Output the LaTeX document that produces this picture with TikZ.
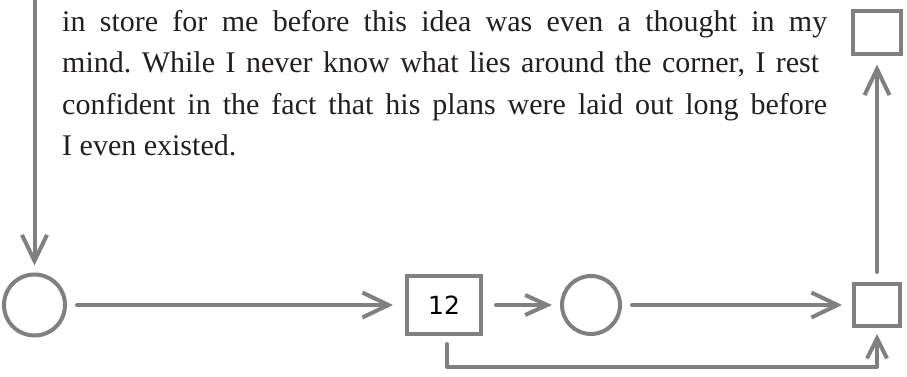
\documentclass[tikz,border=0pt]{standalone}
\usepackage{fontspec}
\setmainfont{Liberation Serif}
\newfontfamily\numfont{DejaVu Sans}
\usetikzlibrary{arrows.meta}
\definecolor{linegray}{HTML}{808080}
\definecolor{inkcol}{HTML}{231F20}
\frenchspacing
\begin{document}
\begin{tikzpicture}[x=1pt,y=-1pt,
  conn/.style={draw=linegray, line width=4pt, line cap=round, line join=round,
    -{Straight Barb[length=26pt,width=25pt]}},
  ring/.style={circle, draw=linegray, line width=4pt, inner sep=0pt},
  sq/.style={rectangle, draw=linegray, line width=4pt, inner sep=0pt},
  txt/.style={inner sep=0pt, anchor=base west, text=inkcol, font=\fontsize{30}{41}\selectfont}]
\useasboundingbox (0,0) rectangle (907,377);
% text
\node[txt] (t1) at (62,32) {\makebox[765pt][s]{in store for me before this idea was even a thought in my}};
\node[txt] (t2) at (62,73) {\makebox[757pt][s]{mind. While I never know what lies around the corner, I rest}};
\node[txt] (t3) at (62,114) {\makebox[765pt][s]{confident in the fact that his plans were laid out long before}};
\node[txt] (t4) at (62,155) {I even existed.};
% shapes
\node[ring, minimum size=61pt] (c1) at (34.5,305) {};
\node[sq, minimum width=74pt, minimum height=58pt, font=\numfont\fontsize{25}{25}\selectfont, text=black] (b12) at (444,305) {12};
\node[ring, minimum size=58pt] (c2) at (591,305) {};
\node[sq, minimum width=46pt, minimum height=42pt] (bR) at (877,305) {};
\node[sq, minimum width=48pt, minimum height=43pt] (bT) at (877,33) {};
\coordinate (s0) at (34.5,-5);
% connectors
\draw[conn, shorten >=7pt] (s0) -- (c1.north);
\draw[conn, shorten <=10pt, shorten >=12pt] (c1.east) -- (b12.west);
\draw[conn, shorten <=13pt, shorten >=8pt, -{Straight Barb[length=22pt,width=20pt]}] (b12.east) -- (c2.west);
\draw[conn, shorten <=10pt, shorten >=10pt] (c2.east) -- (bR.west);
\draw[conn, shorten <=10pt, shorten >=8pt] (bR.north) -- (bT.south);
\draw[conn, shorten <=8pt, shorten >=6pt, -{Straight Barb[length=20pt,width=20pt]}] ([xshift=3pt]b12.south) -- ++(0,31) -| (bR.south);
\end{tikzpicture}
\end{document}
